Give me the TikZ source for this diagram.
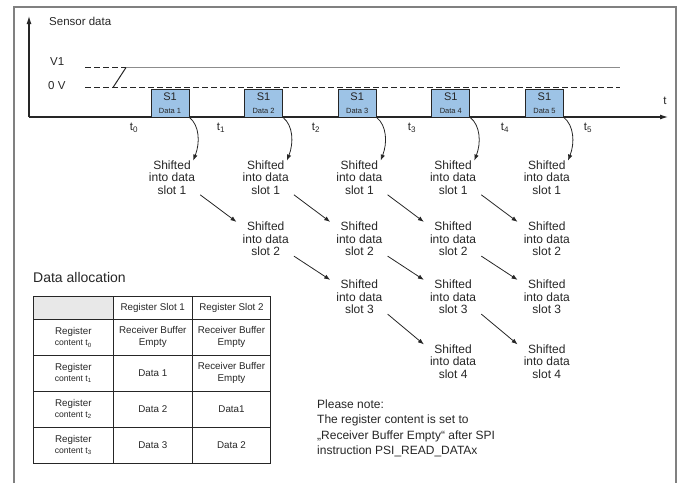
\documentclass[tikz,border=0pt]{standalone}
\usepackage{fontspec}
\setmainfont{Liberation Sans}
\usetikzlibrary{arrows.meta,positioning,calc}
\definecolor{framegray}{HTML}{808080}
\definecolor{ink}{HTML}{262626}
\definecolor{levelgray}{HTML}{8C8C8C}
\definecolor{boxblue}{HTML}{9DC3E6}
\definecolor{cellgray}{HTML}{E8E8E8}

\begin{document}
\begin{tikzpicture}[x=1pt, y=-1pt,
    every node/.style={text=ink},
    slotbox/.style={draw=ink, line width=0.9pt, fill=boxblue, minimum width=38pt, minimum height=28pt, inner sep=0pt, align=center},
    slot/.style={align=center, inner sep=0pt, font=\fontsize{12}{12.5}\selectfont},
    cell/.style={draw=ink, line width=0.8pt, minimum height=36pt, align=center, inner sep=1pt, font=\fontsize{9.8}{11.5}\selectfont},
    arr/.style={-{Latex[length=6pt,width=4.5pt]}, draw=ink, line width=0.8pt},
    axis/.style={-{Latex[length=8pt,width=5pt]}, draw=ink, line width=1.1pt},
    lvl/.style={dash pattern=on 6pt off 3pt, line width=1.3pt, draw=ink},
    lbl/.style={font=\fontsize{11.5}{13}\selectfont, inner sep=0pt}
]
\useasboundingbox (0,0) rectangle (683,483);
\draw[framegray, line width=2pt] (14,483) -- (14,7) -- (676,7) -- (676,483);

% axes
\coordinate (orig) at (29,117);
\coordinate (ytop) at (29,16);
\coordinate (xend) at (668,117);
\draw[axis] (orig) -- (ytop);
\draw[axis] (orig) -- (xend);
\node[lbl, anchor=west] (ylab) at (49,21) {Sensor data};
\node[lbl] (xlab) at (665,101) {t};

% levels
\node[lbl, anchor=west] (v1) at (50,62) {V1};
\node[lbl, anchor=west] (v0) at (48,86) {0 V};
\draw[lvl] (85,87.5) -- (620,87.5);
\draw[lvl] (85,67.5) -- (126,67.5);
\draw[levelgray, line width=1.2pt] (126,67.5) -- (620,67.5);
\draw[ink, line width=1pt] (113,87.5) -- (126,67.5);

% sensor frames
\foreach \c in {1,...,5} {
  \pgfmathsetmacro{\bx}{170+93.6*(\c-1)}
  \node[slotbox] (b-\c) at (\bx,103) {{\fontsize{11}{11}\selectfont S1}\\[1pt]{\fontsize{7.5}{8}\selectfont Data \c}};
}
\foreach \i/\x in {0/134,1/221,2/316,3/412,4/505,5/588}
  \node[lbl] (t\i) at (\x,128) {t\textsubscript{\i}};

% shift chain
\foreach \r/\y in {1/177.7,2/239,3/297,4/361.5} {
  \foreach \c in {\r,...,5} {
    \pgfmathsetmacro{\sx}{172+93.7*(\c-1)}
    \node[slot] (s-\r-\c) at (\sx,\y) {Shifted\\into data\\slot \r};
  }
}
\foreach \c in {1,...,5}
  \draw[arr] (b-\c.south east) .. controls +(10,8) and +(7,-18) .. ([xshift=-2pt]s-1-\c.north east);
\foreach \r in {1,2,3} {
  \foreach \c in {\r,...,4} {
    \pgfmathtruncatemacro{\rn}{\r+1}
    \pgfmathtruncatemacro{\cn}{\c+1}
    \draw[arr] ([xshift=5pt]s-\r-\c.south east) -- ([xshift=-6pt]s-\rn-\cn.north west);
  }
}

% data allocation table
\node[anchor=west, inner sep=0pt, font=\fontsize{14}{16}\selectfont] (title) at (33,277) {Data allocation};
\node[cell, minimum width=80pt, minimum height=22.6pt, fill=cellgray] (h-1) at (73.3,308) {};
\node[cell, minimum width=79pt, minimum height=22.6pt] (h-2) at (152.8,308) {Register Slot 1};
\node[cell, minimum width=78.5pt, minimum height=22.6pt] (h-3) at (231.5,308) {Register Slot 2};
\foreach \r/\y/\a/\b in {0/337.2/{Receiver Buffer\\Empty}/{Receiver Buffer\\Empty},
                        1/373/{Data 1}/{Receiver Buffer\\Empty},
                        2/409/{Data 2}/{Data1},
                        3/445/{Data 3}/{Data 2}} {
  \node[cell, minimum width=80pt] (c-\r-1) at (73.3,\y) {Register\\{\fontsize{8.6}{10}\selectfont content t\textsubscript{\r}}};
  \node[cell, minimum width=79pt] (c-\r-2) at (152.8,\y) {\a};
  \node[cell, minimum width=78.5pt] (c-\r-3) at (231.5,\y) {\b};
}

\node[anchor=north west, align=left, inner sep=0pt, font=\fontsize{12}{15.5}\selectfont] (note) at (317,399.5)
  {Please note:\\The register content is set to\\„Receiver Buffer Empty“ after SPI\\instruction PSI\_READ\_DATAx};
\end{tikzpicture}
\end{document}
